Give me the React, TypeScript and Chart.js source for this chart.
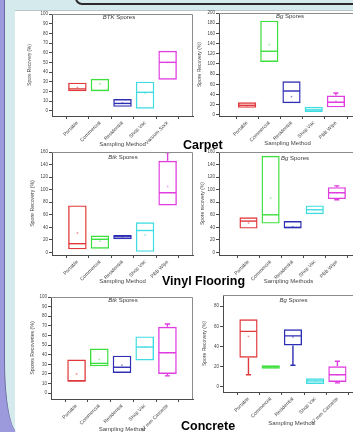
import React, { useEffect, useRef } from 'react';
import { Chart, registerables } from 'chart.js';

Chart.register(...registerables);
Chart.defaults.font.family = '"Liberation Sans", Arial, sans-serif';

// ---------- data ----------
const catsCarpetBtk = ['Portable', 'Commercial', 'Residential', 'Shop Vac', 'Vacuum Sock'];
const catsCarpetBg = ['Portable', 'Commercial', 'Residential', 'Shop Vac', 'PBB Wipe'];
const catsVinyl = ['Portable', 'Commercial', 'Residential', 'Shop Vac', 'PBB Wipe'];
const catsConcrete = ['Portable', 'Commercial', 'Residential', 'Shop Vac', '37 mm Cassette'];

const carpetBtkQ1 = [20, 20, 4, 2, 32];
const carpetBtkMed = [22.5, 21, 7.5, 19, 50];
const carpetBtkQ3 = [29, 33, 12, 30, 62];
const carpetBtkMean = [24, 28, 8, 18, 50];
const carpetBtkLo = [null, null, null, null, null];
const carpetBtkHi = [null, null, null, null, null];

const carpetBgQ1 = [14, 104, 23, 6, 15];
const carpetBgMed = [19, 125, 47, 10, 25];
const carpetBgQ3 = [25, 185, 66, 16, 38];
const carpetBgMean = [18, 138, 36, 10, 27];
const carpetBgLo = [null, null, null, null, null];
const carpetBgHi = [null, null, null, null, 43];

const vinylBtkQ1 = [5, 6, 21, 1, 75];
const vinylBtkMed = [14, 21, 25, 35, 95];
const vinylBtkQ3 = [75, 27, 28, 48, 146];
const vinylBtkMean = [31, 18, 25, 28, 105];
const vinylBtkLo = [null, null, null, null, null];
const vinylBtkHi = [null, null, null, null, 159];

const vinylBgQ1 = [38, 46, 38, 61, 85];
const vinylBgMed = [50, 60, 40, 68, 95];
const vinylBgQ3 = [56, 154, 50, 75, 104];
const vinylBgMean = [47, 87, 41, 68, 95];
const vinylBgLo = [null, null, null, null, 84];
const vinylBgHi = [null, null, null, null, 106];

const concreteBtkQ1 = [12, 28, 21, 34, 20];
const concreteBtkMed = [13, 31, 27, 48, 42];
const concreteBtkQ3 = [35, 46.5, 39, 59, 69];
const concreteBtkMean = [20, 35, 29, 48, 42];
const concreteBtkLo = [null, null, null, null, 18];
const concreteBtkHi = [null, null, null, null, 72];

const concreteBgQ1 = [29, 18, 41, 3, 5];
const concreteBgMed = [55, 20, 50.5, 6, 12];
const concreteBgQ3 = [67, 21.5, 57, 8.5, 20.5];
const concreteBgMean = [50, 20, 49.5, 6, 12];
const concreteBgLo = [12, null, 21.5, null, 4];
const concreteBgHi = [null, null, null, null, 25.5];

const ticks0to100 = [0, 10, 20, 30, 40, 50, 60, 70, 80, 90, 100];
const ticks0to200 = [0, 20, 40, 60, 80, 100, 120, 140, 160, 180, 200];
const ticks0to160 = [0, 20, 40, 60, 80, 100, 120, 140, 160];
const ticks0to80 = [0, 20, 40, 60, 80];

// ---------- styles ----------
const boxColors = ['#e0383b', '#3ddf3d', '#2e2eb4', '#3fdde2', '#df3ddf'];
const meanColors = ['#f08a8a', '#9aef9a', '#8a8ad8', '#9aeef0', '#ef9aef'];
const axisColor = '#4a4a4a';
const textColor = '#444';
const PAD_TOP = 5;
const PAD_RIGHT = 6;

type Panel = {
  cats: string[];
  q1: number[]; med: number[]; q3: number[]; mean: number[];
  lo: (number | null)[]; hi: (number | null)[];
  yTicks: number[]; yMin: number; yMax: number; xMin: number; xMax: number;
  plot: { l: number; t: number; r: number; b: number };
  yAxisW: number; xAxisH: number;
  species: string; yTitle: string; xTitle: string; yTitleSize: number;
  titleDx: number; titleDy: number;
};

const panels: Panel[] = [
  {
    cats: catsCarpetBtk, q1: carpetBtkQ1, med: carpetBtkMed, q3: carpetBtkQ3, mean: carpetBtkMean,
    lo: carpetBtkLo, hi: carpetBtkHi, yTicks: ticks0to100, yMin: -5.5, yMax: 100, xMin: 0.5, xMax: 5.5,
    plot: { l: 52, t: 14, r: 193, b: 116 }, yAxisW: 25, xAxisH: 32,
    species: 'BTK', yTitle: 'Spore Recovery (%)', xTitle: 'Sampling Method', yTitleSize: 4.6,
    titleDx: 67, titleDy: 3.5,
  },
  {
    cats: catsCarpetBg, q1: carpetBgQ1, med: carpetBgMed, q3: carpetBgQ3, mean: carpetBgMean,
    lo: carpetBgLo, hi: carpetBgHi, yTicks: ticks0to200, yMin: -2, yMax: 200, xMin: 0.351, xMax: 5.288,
    plot: { l: 219, t: 13, r: 356, b: 116 }, yAxisW: 22, xAxisH: 31,
    species: 'Bg', yTitle: 'Spore Recovery (%)', xTitle: 'Sampling Method', yTitleSize: 5,
    titleDx: 71, titleDy: 3.7,
  },
  {
    cats: catsVinyl, q1: vinylBtkQ1, med: vinylBtkMed, q3: vinylBtkQ3, mean: vinylBtkMean,
    lo: vinylBtkLo, hi: vinylBtkHi, yTicks: ticks0to160, yMin: -4, yMax: 160, xMin: 0.5, xMax: 5.5,
    plot: { l: 52, t: 152, r: 193, b: 255 }, yAxisW: 23, xAxisH: 30,
    species: 'Btk', yTitle: 'Spore Recovery (%)', xTitle: 'Sampling Method', yTitleSize: 5.2,
    titleDx: 71, titleDy: 5.3,
  },
  {
    cats: catsVinyl, q1: vinylBgQ1, med: vinylBgMed, q3: vinylBgQ3, mean: vinylBgMean,
    lo: vinylBgLo, hi: vinylBgHi, yTicks: ticks0to160, yMin: -4, yMax: 160, xMin: 0.293, xMax: 5.329,
    plot: { l: 219, t: 152, r: 358, b: 255 }, yAxisW: 19, xAxisH: 30,
    species: 'Bg', yTitle: 'Spore recovery (%)', xTitle: 'Sampling Methods', yTitleSize: 5,
    titleDx: 76, titleDy: 6.3,
  },
  {
    cats: catsConcrete, q1: concreteBtkQ1, med: concreteBtkMed, q3: concreteBtkQ3, mean: concreteBtkMean,
    lo: concreteBtkLo, hi: concreteBtkHi, yTicks: ticks0to100, yMin: -6, yMax: 100, xMin: 0.5, xMax: 5.5,
    plot: { l: 51, t: 297, r: 193, b: 399 }, yAxisW: 22, xAxisH: 34,
    species: 'Btk', yTitle: 'Spores Recoveries (%)', xTitle: 'Sampling Method', yTitleSize: 5.2,
    titleDx: 72, titleDy: 3.7,
  },
  {
    cats: catsConcrete, q1: concreteBgQ1, med: concreteBgMed, q3: concreteBgQ3, mean: concreteBgMean,
    lo: concreteBgLo, hi: concreteBgHi, yTicks: ticks0to80, yMin: -5, yMax: 91, xMin: 0.471, xMax: 5.4,
    plot: { l: 223, t: 295, r: 360, b: 392 }, yAxisW: 21, xAxisH: 35,
    species: 'Bg', yTitle: 'Spore Recovery (%)', xTitle: 'Sampling Method', yTitleSize: 5,
    titleDx: 70.5, titleDy: 5,
  },
];

function BoxPanel({ p }: { p: Panel }) {
  const ref = useRef<HTMLCanvasElement>(null);
  const left = p.plot.l - p.yAxisW;
  const top = p.plot.t - PAD_TOP;
  const width = p.plot.r - left + PAD_RIGHT;
  const height = p.plot.b + p.xAxisH - top;

  useEffect(() => {
    const canvas = ref.current;
    if (!canvas) return;
    const extras = {
      id: 'boxExtras',
      afterDatasetsDraw(chart: any) {
        const ctx = chart.ctx;
        const ys = chart.scales.y;
        const area = chart.chartArea;
        const bars = chart.getDatasetMeta(0).data;
        ctx.save();
        bars.forEach((bar: any, i: number) => {
          const x = bar.x;
          const w = bar.width;
          ctx.strokeStyle = boxColors[i];
          ctx.lineWidth = 1.4;
          ctx.beginPath();
          const ym = ys.getPixelForValue(p.med[i]);
          ctx.moveTo(x - w / 2 + 0.7, ym);
          ctx.lineTo(x + w / 2 - 0.7, ym);
          const hi = p.hi[i];
          const lo = p.lo[i];
          if (hi != null) {
            const y0 = ys.getPixelForValue(p.q3[i]);
            const y1 = ys.getPixelForValue(hi);
            ctx.moveTo(x, y0); ctx.lineTo(x, y1);
            ctx.moveTo(x - w * 0.14, y1); ctx.lineTo(x + w * 0.14, y1);
          }
          if (lo != null) {
            const y0 = ys.getPixelForValue(p.q1[i]);
            const y1 = ys.getPixelForValue(lo);
            ctx.moveTo(x, y0); ctx.lineTo(x, y1);
            ctx.moveTo(x - w * 0.14, y1); ctx.lineTo(x + w * 0.14, y1);
          }
          ctx.stroke();
        });
        // frame top & right
        ctx.strokeStyle = '#8c8c8c';
        ctx.lineWidth = 1;
        ctx.beginPath();
        ctx.moveTo(area.left, area.top + 0.5);
        ctx.lineTo(area.right - 0.5, area.top + 0.5);
        ctx.lineTo(area.right - 0.5, area.bottom);
        ctx.stroke();
        // title
        const fam = '"Liberation Sans", Arial, sans-serif';
        ctx.fillStyle = '#3a3a3a';
        ctx.textBaseline = 'middle';
        ctx.textAlign = 'left';
        ctx.font = `italic 6px ${fam}`;
        const w1 = ctx.measureText(p.species).width;
        ctx.font = `6px ${fam}`;
        const rest = ' Spores';
        const w2 = ctx.measureText(rest).width;
        const cx = area.left + p.titleDx;
        const cy = area.top + p.titleDy;
        const sx = cx - (w1 + w2) / 2;
        ctx.font = `italic 6px ${fam}`;
        ctx.fillText(p.species, sx, cy);
        ctx.font = `6px ${fam}`;
        ctx.fillText(rest, sx + w1, cy);
        ctx.restore();
      },
    };

    const chart = new Chart(canvas, {
      type: 'bar',
      data: {
        datasets: [
          {
            type: 'bar',
            data: p.cats.map((_, i) => ({ x: i + 1, y: [p.q1[i], p.q3[i]] })) as any,
            backgroundColor: 'rgba(0,0,0,0)',
            borderColor: boxColors,
            borderWidth: 1.4,
            borderSkipped: false,
            grouped: false,
            categoryPercentage: 1,
            barPercentage: 0.82,
          } as any,
          {
            type: 'scatter',
            data: p.cats.map((_, i) => ({ x: i + 1, y: p.mean[i] })),
            pointStyle: 'rect',
            pointRadius: 1.1,
            backgroundColor: meanColors,
            borderColor: meanColors,
            borderWidth: 0,
          } as any,
        ],
      },
      options: {
        responsive: false,
        animation: false,
        events: [],
        layout: { padding: { top: PAD_TOP, right: PAD_RIGHT, left: 0, bottom: 0 }, autoPadding: false } as any,
        plugins: { legend: { display: false }, tooltip: { enabled: false }, title: { display: false } },
        scales: {
          x: {
            type: 'linear',
            min: p.xMin,
            max: p.xMax,
            afterBuildTicks: (s: any) => { s.ticks = p.cats.map((_, i) => ({ value: i + 1 })); },
            afterFit: (s: any) => { s.height = p.xAxisH; },
            ticks: {
              callback: (v: any) => p.cats[Math.round(Number(v)) - 1] ?? '',
              minRotation: 45,
              maxRotation: 45,
              autoSkip: false,
              font: { size: 5 },
              color: textColor,
              padding: 1,
            },
            grid: { drawOnChartArea: false, tickLength: 3, color: axisColor },
            border: { color: axisColor, width: 1 },
            title: { display: true, text: p.xTitle, font: { size: 6 }, padding: 0, color: textColor },
          } as any,
          y: {
            min: p.yMin,
            max: p.yMax,
            afterBuildTicks: (s: any) => { s.ticks = p.yTicks.map((v) => ({ value: v })); },
            afterFit: (s: any) => { s.width = p.yAxisW; },
            ticks: { font: { size: 4.5 }, color: textColor, padding: 1 },
            grid: { drawOnChartArea: false, tickLength: 3, color: axisColor },
            border: { color: axisColor, width: 1 },
            title: { display: true, text: p.yTitle, font: { size: p.yTitleSize }, padding: 0, color: textColor },
          } as any,
        },
      },
      plugins: [extras as any],
    });
    return () => chart.destroy();
  }, [p]);

  return (
    <canvas
      ref={ref}
      width={width}
      height={height}
      style={{ position: 'absolute', left, top, width, height }}
    />
  );
}

const bigLabel: React.CSSProperties = {
  position: 'absolute',
  fontFamily: '"Liberation Sans", Arial, sans-serif',
  fontWeight: 'bold',
  fontSize: 12.5,
  lineHeight: '14px',
  color: '#000',
  whiteSpace: 'nowrap',
};

export default function App() {
  return (
    <div
      style={{
        position: 'fixed',
        left: 0,
        top: 0,
        width: 353,
        height: 432,
        overflow: 'hidden',
        background: '#9c99dc',
      }}
    >
      <div
        style={{
          position: 'absolute',
          left: 4,
          top: 0,
          width: 360,
          height: 432,
          background: '#d5eaec',
          borderLeft: '1px solid #6a6aa0',
          borderBottomLeftRadius: '14px 70px',
        }}
      />
      <div
        style={{
          position: 'absolute',
          left: 75,
          top: -22,
          width: 320,
          height: 23,
          background: '#d5eaec',
          border: '2px solid #2b2b2b',
          borderRadius: 7,
        }}
      />
      <div
        style={{
          position: 'absolute',
          left: 15,
          top: 10,
          width: 345,
          height: 430,
          background: '#ffffff',
          borderTop: '1px solid #b9c6c8',
          borderBottomLeftRadius: '2px 20px',
        }}
      />
      {panels.map((p, i) => (
        <BoxPanel key={i} p={p} />
      ))}
      <div style={{ ...bigLabel, left: 183, top: 138 }}>Carpet</div>
      <div style={{ ...bigLabel, left: 162, top: 274 }}>Vinyl Flooring</div>
      <div style={{ ...bigLabel, left: 181, top: 419 }}>Concrete</div>
    </div>
  );
}
